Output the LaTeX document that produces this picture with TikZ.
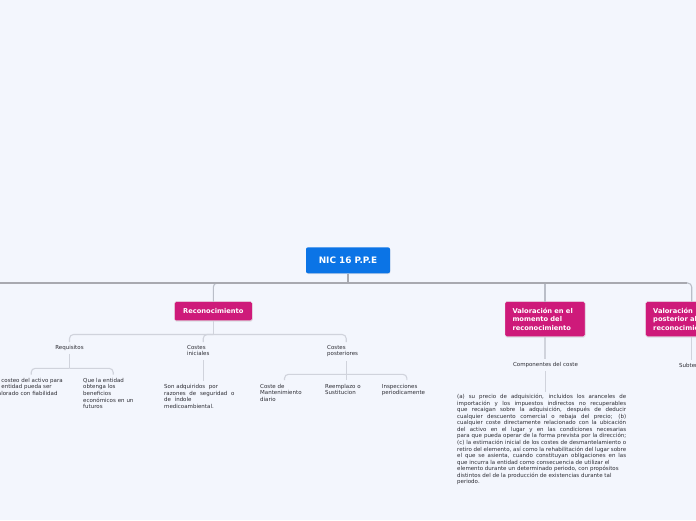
\documentclass[tikz,border=0pt]{standalone}
\usepackage{fontspec}
\setmainfont{DejaVu Sans}
\usetikzlibrary{shadows,calc}
\definecolor{bgc}{RGB}{243,246,253}
\definecolor{rootblue}{RGB}{11,116,230}
\definecolor{mag}{RGB}{206,26,122}
\definecolor{lineA}{RGB}{168,169,176}
\definecolor{lineB}{RGB}{186,190,200}
\definecolor{lineC}{RGB}{208,211,220}
\definecolor{txt}{RGB}{45,45,52}
\tikzset{
  mainline/.style={draw=lineA, line width=1.6pt},
  branch/.style={draw=lineB, line width=1.1pt},
  subline/.style={draw=lineC, line width=1.1pt},
  rootbox/.style={fill=rootblue, text=white, rounded corners=2pt, minimum width=84pt, minimum height=26pt,
    inner sep=0pt, font=\bfseries\fontsize{8.9}{10}\selectfont,
    drop shadow={opacity=0.18, shadow xshift=0.4pt, shadow yshift=-0.8pt}},
  topicbox/.style={fill=mag, text=white, draw=white!85!gray, line width=0.4pt, rounded corners=1.5pt,
    inner ysep=0pt, font=\bfseries\fontsize{6.7}{8.3}\selectfont,
    drop shadow={opacity=0.22, shadow xshift=0.4pt, shadow yshift=-0.8pt}},
  lbl/.style={text=txt, inner sep=0pt, align=left, font=\fontsize{5.5}{6.6}\selectfont},
}
\begin{document}
\begin{tikzpicture}[x=1pt,y=-1pt]
\fill[bgc] (0,0) rectangle (696,520);
\useasboundingbox (0,0) rectangle (696,520);
\clip (0,0) rectangle (696,520);

% nodes
\node[rootbox] (root) at (348,260.3) {NIC 16 P.P.E};
\node[topicbox, minimum width=78pt, minimum height=19pt, inner xsep=0pt] (rec) at (213.3,311.2) {Reconocimiento};
\node[topicbox, align=left, text width=65pt, inner xsep=7.5pt, minimum height=35pt] (val1) at (545,319.2)
  {Valoración en el\\momento del\\reconocimiento};
\node[topicbox, align=left, text width=77pt, inner xsep=7.5pt, minimum height=35pt] (val2) at (691.7,319.2)
  {Valoración\\posterior al\\reconocimiento};

\node[lbl, align=center] (req) at (69.5,348) {Requisitos};
\node[lbl, anchor=north west, text width=73pt] (ca) at (-5.5,378) {el costeo del activo para\\la entidad pueda ser\\valorado con fiabilidad};
\node[lbl, anchor=north west, text width=60pt] (cb) at (83,378) {Que la entidad\\obtenga los\\beneficios\\económicos en un\\futuros};

\node[lbl, anchor=north west, text width=32pt] (ci) at (187,345) {Costes\\iniciales};
\node[lbl, anchor=north west, text width=78pt] (cic) at (164,384.3) {Son adquiridos~~por\\razones~~de~~seguridad~~o\\de~~índole\\medicoambiental.};

\node[lbl, anchor=north west, text width=38pt] (cp) at (327,345) {Costes\\posteriores};
\node[lbl, anchor=north west, text width=48.6pt] (cpa) at (260,384) {Coste de\\Mantenimiento\\diario};
\node[lbl, anchor=north west, text width=42pt] (cpb) at (325,384) {Reemplazo o\\Sustitucion};
\node[lbl, anchor=north west, text width=50pt] (cpc) at (381.7,384) {Inspecciones\\periodicamente};

\node[lbl, align=center] (comp) at (545.5,364.5) {Componentes del coste};
\node[lbl, anchor=north west, text width=169pt, align=justify, font=\fontsize{5.5}{6.55}\selectfont] (long) at (457,394)
{(a) su precio de adquisición, incluidos los aranceles de\linebreak
importación y los impuestos indirectos no recuperables\linebreak
que recaigan sobre la adquisición, después de deducir\linebreak
cualquier descuento comercial o rebaja del precio; (b)\linebreak
cualquier coste directamente relacionado con la ubicación\linebreak
del activo en el lugar y en las condiciones necesarias\linebreak
para que pueda operar de la forma prevista por la dirección;\linebreak
(c) la estimación inicial de los costes de desmantelamiento o\linebreak
retiro del elemento, así como la rehabilitación del lugar sobre\linebreak
el que se asienta, cuando constituyan obligaciones en las\linebreak
que incurra la entidad como consecuencia de utilizar el\newline
elemento durante un determinado periodo, con propósitos\newline
distintos del de la producción de existencias durante tal\newline
periodo.};

\node[lbl, anchor=west] (sub) at (679,365) {Subtema};

% coordinates
\coordinate (mL) at (0,283);
\coordinate (j1) at (213.3,334.5);
\coordinate (j2) at (req.south |- 0,368.3);
\coordinate (j3) at (cp.south |- 0,374.3);

% connectors
\draw[branch, rounded corners=4pt] ($(rec.north |- mL)+(10,0)$) -| (rec.north);
\draw[branch] (val1.north |- mL) -- (val1.north);
\draw[branch, rounded corners=4pt] ($(val2.north |- mL)+(-10,0)$) -| (val2.north);
\draw[mainline] (mL) -- ($(val2.north |- mL)+(-5,0)$);
\draw[mainline] (root.south) -- (root.south |- mL);

\draw[subline] (rec.south) -- (j1);
\draw[subline, rounded corners=4pt, shorten >=3pt] (j1) -| (req.north);
\draw[subline, rounded corners=4pt, shorten >=3pt] (j1) -| (ci.north);
\draw[subline, rounded corners=4pt, shorten >=3pt] (j1) -| (cp.north);

\draw[subline, shorten <=3pt] (req.south) -- (j2);
\draw[subline, rounded corners=4pt, shorten >=3.5pt] (j2) -| (ca.north);
\draw[subline, rounded corners=4pt, shorten >=3.5pt] (j2) -| (cb.north);

\draw[subline, shorten <=4pt, shorten >=3.5pt] (ci.south) -- (cic.north);

\draw[subline, shorten <=4pt] (cp.south) -- (j3);
\draw[subline, rounded corners=4pt, shorten >=4pt] (j3) -| (cpa.north);
\draw[subline, shorten >=4pt] (j3) -- (cpb.north);
\draw[subline, rounded corners=4pt, shorten >=4pt] (j3) -| (cpc.north);

\draw[subline, shorten >=3pt] (val1.south) -- (val1.south |- comp.north);
\draw[subline, shorten <=4pt, shorten >=2pt] (comp.south) -- (comp.south |- long.north);
\draw[subline, shorten >=3pt] (val2.south) -- (val2.south |- sub.north);
\end{tikzpicture}
\end{document}
